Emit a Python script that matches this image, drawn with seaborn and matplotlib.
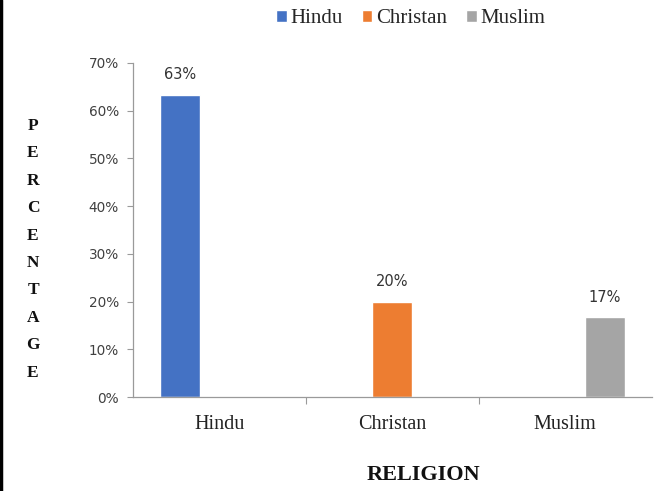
import matplotlib
matplotlib.use("Agg")
import matplotlib.pyplot as plt
import seaborn as sns
import pandas as pd
from matplotlib.ticker import PercentFormatter, FixedLocator

religions = ["Hindu", "Christan", "Muslim"]
percent = [63.3, 20.0, 16.7]
value_labels = ["63%", "20%", "17%"]
colors = ["#4472C4", "#ED7D31", "#A5A5A5"]
y_ticks = [0, 10, 20, 30, 40, 50, 60, 70]

df = pd.DataFrame({"Religion": religions, "Percent": percent})

sns.set_style("white")
fig = plt.figure(figsize=(6.59, 4.91), dpi=100)
ax = fig.add_axes([0.2018, 0.1914, 0.787, 0.6803])

sns.barplot(data=df, x="Religion", y="Percent", hue="Religion",
            order=religions, hue_order=religions, palette=colors,
            dodge=True, width=0.69, ax=ax, legend=True, saturation=1)

ax.set_ylim(0, 70)
ax.set_xlim(-0.5, 2.5)
ax.set_yticks(y_ticks)
ax.yaxis.set_major_formatter(PercentFormatter(decimals=0))
for lbl in ax.get_yticklabels():
    lbl.set_fontfamily("DejaVu Sans")
    lbl.set_fontsize(9.8)
    lbl.set_color("#404040")
ax.tick_params(axis="y", length=4, width=0.8, color="#9a9a9a", left=True, pad=6)

ax.set_xticks([0, 1, 2])
ax.set_xticklabels(religions, fontfamily="Liberation Serif", fontsize=14.5, color="#222222")
ax.tick_params(axis="x", which="major", length=0, pad=13)
ax.xaxis.set_minor_locator(FixedLocator([0.5, 1.5]))
ax.tick_params(axis="x", which="minor", length=5, width=0.8, color="#9a9a9a", bottom=True)

for side in ["top", "right"]:
    ax.spines[side].set_visible(False)
for side in ["left", "bottom"]:
    ax.spines[side].set_color("#9a9a9a")
    ax.spines[side].set_linewidth(0.9)

ax.set_xlabel("")
ax.set_ylabel("")

for container, lab in zip(ax.containers, value_labels):
    ax.bar_label(container, labels=[lab], padding=9, fontsize=10.5,
                 fontfamily="DejaVu Sans", color="#333333")

leg = ax.legend(loc="center", bbox_to_anchor=(0.536, 1.133), ncol=3, frameon=False,
                prop={"family": "Liberation Serif", "size": 15},
                handlelength=0.5, handleheight=0.5, handletextpad=0.2,
                columnspacing=0.9, borderpad=0)

fig.text(0.642, 0.033, "RELIGION", ha="center", va="center",
         fontfamily="Liberation Serif", fontweight="bold", fontsize=16, color="#111111")

ylabel = "PERCENTAGE"
top_y = 1 - 126 / 491
step = 27.4 / 491
for i, ch in enumerate(ylabel):
    fig.text(33 / 659, top_y - i * step, ch, ha="center", va="center",
             fontfamily="Liberation Serif", fontweight="bold", fontsize=12.5, color="#111111")

fig.add_artist(plt.Line2D([0.0015, 0.0015], [0, 1], color="black", lw=2.5,
                          transform=fig.transFigure))

fig.savefig("out.png", dpi=100)
